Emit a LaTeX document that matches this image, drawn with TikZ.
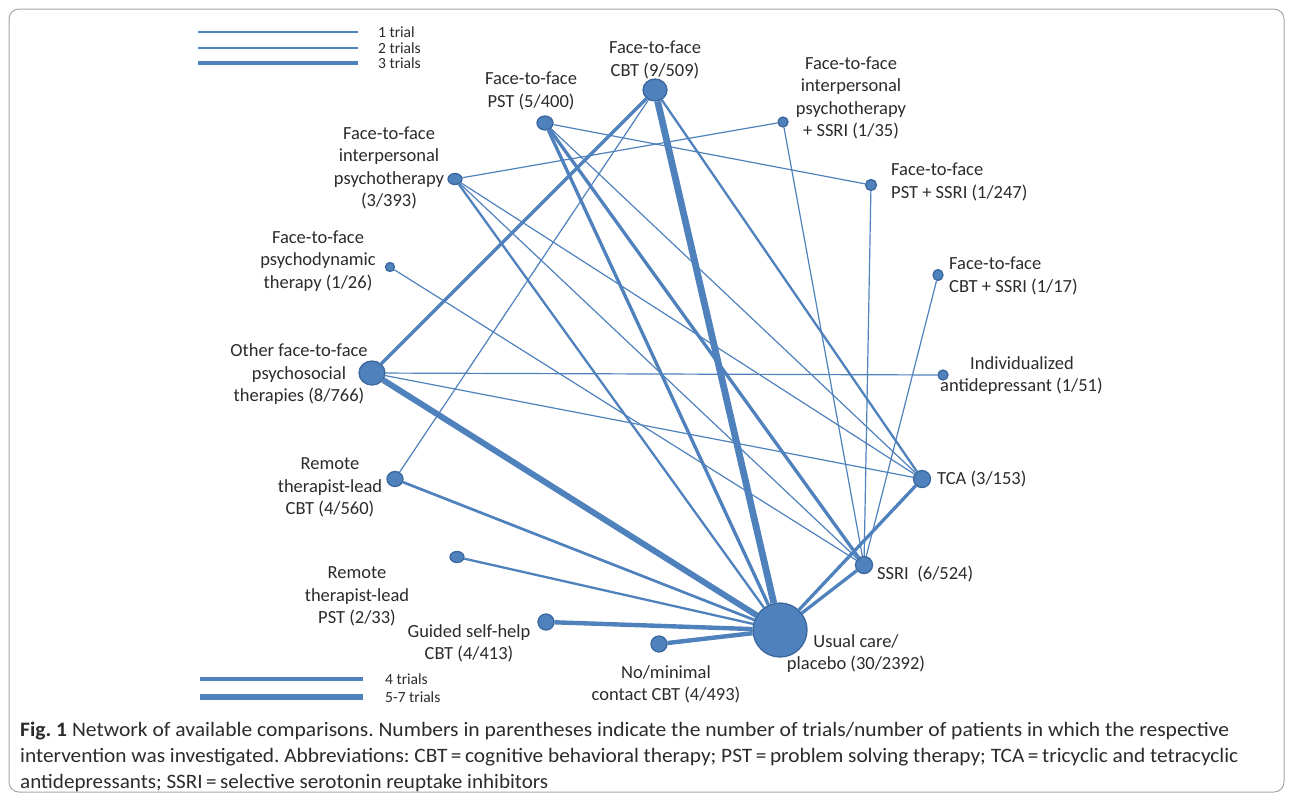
\documentclass[tikz,border=0pt]{standalone}
\usepackage{fontspec}
\usepackage{graphicx}
\setmainfont{Carlito}
\usetikzlibrary{backgrounds,shapes.geometric}
\definecolor{nb}{HTML}{4F81BD}
\definecolor{nbd}{HTML}{3A689E}
\definecolor{tx}{HTML}{2B2B2B}
\frenchspacing
\begin{document}
\begin{tikzpicture}[x=1pt,y=-1pt,
  nd/.style={ellipse, fill=nb, draw=nbd, line width=1.3pt, inner sep=0pt},
  lab/.style={align=center, font=\fontsize{18.5}{22.5}\selectfont, text=tx, inner sep=0pt},
  leglab/.style={anchor=west, font=\fontsize{15.5}{18}\selectfont, text=tx, inner sep=0pt},
  captxt/.style={anchor=west, font=\fontsize{20.5}{24}\selectfont, text=tx, inner sep=0pt},
  ed/.style={draw=nb},
  wa/.style={ed, line width=1.2pt},
  wb/.style={ed, line width=2.3pt},
  wc/.style={ed, line width=3.3pt},
  wd/.style={ed, line width=4.4pt},
  we/.style={ed, line width=6pt}]
\useasboundingbox (0,0) rectangle (1292,801);
\draw[gray!70, line width=1pt, rounded corners=10pt] (9,9) rectangle (1284,792);

% legend
\coordinate (l1a) at (198,32); \coordinate (l1b) at (358,32);
\coordinate (l2a) at (198,48); \coordinate (l2b) at (358,48);
\coordinate (l3a) at (198,63); \coordinate (l3b) at (358,63);
\coordinate (l4a) at (200,679); \coordinate (l4b) at (363,679);
\coordinate (l5a) at (200,697); \coordinate (l5b) at (363,697);
\draw[wa] (l1a) -- (l1b);
\draw[wb] (l2a) -- (l2b);
\draw[wc] (l3a) -- (l3b);
\draw[wd] (l4a) -- (l4b);
\draw[we] (l5a) -- (l5b);
\node[leglab] (t1) at (378,32) {1 trial};
\node[leglab] (t2) at (378,48) {2 trials};
\node[leglab] (t3) at (378,63) {3 trials};
\node[leglab] (t4) at (385,679) {4 trials};
\node[leglab] (t5) at (385,697) {5-7 trials};

% nodes
\node[nd, minimum width=24pt, minimum height=22pt] (cbt) at (655,90) {};
\node[nd, minimum width=16pt, minimum height=14pt] (pst) at (545,123) {};
\node[nd, minimum width=14pt, minimum height=11pt] (ipt) at (455,179) {};
\node[nd, minimum width=9pt, minimum height=9pt] (psy) at (390,267) {};
\node[nd, minimum width=26pt, minimum height=24pt] (oth) at (372,373) {};
\node[nd, minimum width=16pt, minimum height=15pt] (rcbt) at (395,479) {};
\node[nd, minimum width=14pt, minimum height=11pt] (rpst) at (457,557) {};
\node[nd, minimum width=16pt, minimum height=16pt] (gsh) at (546,622) {};
\node[nd, minimum width=16pt, minimum height=16pt] (nmc) at (659,644) {};
\node[nd, minimum width=54pt, minimum height=54pt] (uc) at (780,630) {};
\node[nd, minimum width=17pt, minimum height=17pt] (ssri) at (864,565) {};
\node[nd, minimum width=17pt, minimum height=17pt] (tca) at (922,479) {};
\node[nd, minimum width=10pt, minimum height=10pt] (ind) at (943,375) {};
\node[nd, minimum width=10pt, minimum height=11pt] (cbts) at (938,275) {};
\node[nd, minimum width=11pt, minimum height=11pt] (psts) at (871,185) {};
\node[nd, minimum width=10pt, minimum height=10pt] (ipts) at (783,122) {};

% edges
\begin{pgfonlayer}{background}
\draw[wc] (cbt) -- (oth);
\draw[we, line width=6.8pt] (cbt) -- (uc);
\draw[wb] (cbt) -- (tca);
\draw[wa] (cbt) -- (rcbt);
\draw[wa] (pst) -- (psts);
\draw[wc] (pst) -- (uc);
\draw[wc] (pst) -- (ssri);
\draw[wa] (pst) -- (tca);
\draw[wa] (ipt) -- (ipts);
\draw[wb] (ipt) -- (uc);
\draw[wa] (ipt) -- (ssri);
\draw[wa] (ipt) -- (tca);
\draw[wa] (psy) -- (ssri);
\draw[we] (oth) -- (uc);
\draw[wa] (oth) -- (ind);
\draw[wa] (oth) -- (tca);
\draw[wb, line width=2.7pt] (rcbt) -- (uc);
\draw[wb] (rpst) -- (uc);
\draw[wd] (gsh) -- (uc);
\draw[wd] (nmc) -- (uc);
\draw[wc] (tca) -- (uc);
\draw[wc] (ssri) -- (uc);
\draw[wa] (ipts) -- (ssri);
\draw[wa] (psts) -- (ssri);
\draw[wa] (cbts) -- (ssri);
\end{pgfonlayer}

% labels
\node[lab] (Lcbt) at (655,60) {Face-to-face\\CBT (9/509)};
\node[lab] (Lpst) at (531,91) {Face-to-face\\PST (5/400)};
\node[lab] (Lipt) at (389,168) {Face-to-face\\interpersonal\\psychotherapy\\(3/393)};
\node[lab] (Lpsy) at (318,261) {Face-to-face\\psychodynamic\\therapy (1/26)};
\node[lab] (Loth) at (299,374.5) {Other face-to-face\\psychosocial\\therapies (8/766)};
\node[lab] (Lrcbt) at (330,487.5) {Remote\\therapist-lead\\CBT (4/560)};
\node[lab] (Lrpst) at (357,596.5) {Remote\\therapist-lead\\PST (2/33)};
\node[lab] (Lgsh) at (469,643.5) {Guided self-help\\CBT (4/413)};
\node[lab] (Lnmc) at (666,684.5) {No/minimal\\contact CBT (4/493)};
\node[lab] (Luc) at (856,653.5) {Usual care/\\placebo (30/2392)};
\node[lab, anchor=west] (Lssri) at (877,574) {SSRI\ \ (6/524)};
\node[lab, anchor=west] (Ltca) at (937,479) {TCA (3/153)};
\node[lab, anchor=west, align=left] (Lind) at (940,375.5) {\hspace*{30pt}Individualized\\antidepressant (1/51)};
\node[lab, anchor=west, align=left] (Lcbts) at (949,276) {Face-to-face\\CBT + SSRI (1/17)};
\node[lab, anchor=west, align=left] (Lpsts) at (891,182) {Face-to-face\\PST + SSRI (1/247)};
\node[lab] (Lipts) at (851,98) {Face-to-face\\interpersonal\\psychotherapy\\+ SSRI (1/35)};

% caption
\node[captxt] (c1) at (20,731) {\resizebox{1209pt}{\height}{\textbf{Fig. 1} Network of available comparisons. Numbers in parentheses indicate the number of trials/number of patients in which the respective}};
\node[captxt] (c2) at (20,757) {\resizebox{1218pt}{\height}{intervention was investigated. Abbreviations: CBT\,=\,cognitive behavioral therapy; PST\,=\,problem solving therapy; TCA\,=\,tricyclic and tetracyclic}};
\node[captxt] (c3) at (20,783) {\resizebox{528pt}{\height}{antidepressants; SSRI\,=\,selective serotonin reuptake inhibitors}};
\end{tikzpicture}
\end{document}
